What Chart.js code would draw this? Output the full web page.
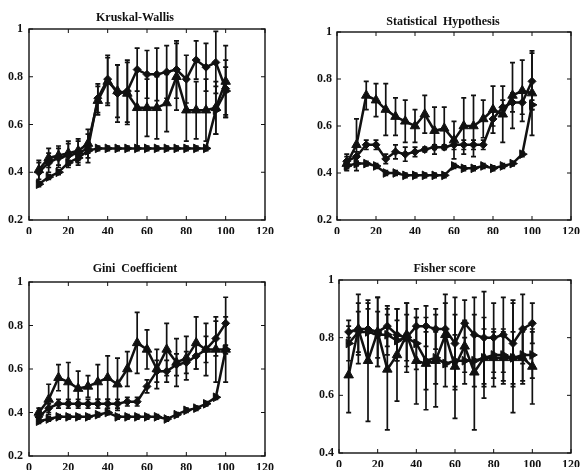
<!DOCTYPE html>
<html><head><meta charset="utf-8">
<script src="https://cdn.jsdelivr.net/npm/chart.js@4/dist/chart.umd.min.js"></script>
<style>
html,body{margin:0;padding:0;background:#fff;width:585px;height:474px;overflow:hidden}
canvas{position:absolute}
</style></head><body>
<canvas id="c1" width="292" height="237" style="left:0;top:0"></canvas>
<canvas id="c2" width="293" height="237" style="left:292px;top:0"></canvas>
<canvas id="c3" width="292" height="237" style="left:0;top:237px"></canvas>
<canvas id="c4" width="293" height="237" style="left:292px;top:237px"></canvas>
<script>
// ---- data ----
const featureCounts = [5,10,15,20,25,30,35,40,45,50,55,60,65,70,75,80,85,90,95,100];
const xTickValues = [0,20,40,60,80,100,120];
const yTickValues = [0.2,0.4,0.6,0.8,1];
const yTickValuesFisher = [0.4,0.6,0.8,1];

// Kruskal-Wallis
const kwTriUp      = [0.41,0.46,0.47,0.48,0.49,0.52,0.70,0.78,0.74,0.73,0.67,0.67,0.67,0.69,0.80,0.66,0.66,0.66,0.67,0.78];
const kwTriUpErr   = [0.04,0.04,0.04,0.05,0.05,0.06,0.06,0.10,0.11,0.13,0.16,0.12,0.13,0.12,0.14,0.13,0.12,0.13,0.11,0.15];
const kwDiamond    = [0.40,0.44,0.46,0.47,0.48,0.50,0.71,0.79,0.73,0.74,0.83,0.81,0.81,0.82,0.83,0.79,0.87,0.84,0.86,0.75];
const kwDiamondErr = [0.04,0.04,0.04,0.05,0.05,0.06,0.06,0.10,0.12,0.13,0.09,0.10,0.11,0.11,0.12,0.10,0.08,0.10,0.13,0.12];
const kwTriRight   = [0.35,0.38,0.40,0.44,0.46,0.49,0.50,0.50,0.50,0.50,0.50,0.50,0.50,0.50,0.50,0.50,0.50,0.50,0.66,0.74];
const kwTriRightErr= [0.01,0.01,0.01,0.01,0.01,0.01,0.01,0.01,0.01,0.01,0.01,0.01,0.01,0.01,0.01,0.01,0.01,0.01,0.10,0.10];

// Statistical Hypothesis
const shTriUp      = [0.44,0.52,0.73,0.71,0.67,0.64,0.62,0.60,0.65,0.58,0.59,0.54,0.60,0.60,0.63,0.67,0.65,0.73,0.75,0.74];
const shTriUpErr   = [0.03,0.11,0.06,0.07,0.11,0.08,0.09,0.07,0.08,0.10,0.09,0.08,0.12,0.13,0.08,0.10,0.12,0.14,0.13,0.18];
const shDiamond    = [0.45,0.47,0.52,0.52,0.46,0.49,0.48,0.49,0.50,0.51,0.51,0.52,0.52,0.52,0.52,0.63,0.68,0.70,0.70,0.79];
const shDiamondErr = [0.03,0.02,0.02,0.02,0.02,0.03,0.03,0.02,0.01,0.01,0.01,0.02,0.02,0.02,0.02,0.03,0.03,0.04,0.05,0.12];
const shTriRight   = [0.43,0.44,0.44,0.43,0.40,0.40,0.39,0.39,0.39,0.39,0.39,0.43,0.42,0.42,0.43,0.42,0.43,0.44,0.48,0.69];
const shTriRightErr= [0.01,0.01,0.01,0.01,0.01,0.01,0.01,0.01,0.01,0.01,0.01,0.01,0.01,0.01,0.01,0.01,0.01,0.01,0.01,0.02];

// Gini Coefficient
const giTriUp      = [0.40,0.46,0.56,0.54,0.51,0.52,0.54,0.56,0.53,0.60,0.72,0.69,0.60,0.69,0.63,0.65,0.72,0.69,0.69,0.69];
const giTriUpErr   = [0.02,0.07,0.06,0.09,0.08,0.05,0.08,0.10,0.12,0.08,0.14,0.09,0.09,0.12,0.11,0.10,0.12,0.12,0.15,0.15];
const giDiamond    = [0.38,0.42,0.44,0.44,0.44,0.44,0.44,0.44,0.44,0.45,0.45,0.52,0.59,0.59,0.62,0.63,0.66,0.69,0.74,0.81];
const giDiamondErr = [0.02,0.02,0.02,0.02,0.02,0.02,0.02,0.02,0.02,0.02,0.02,0.03,0.05,0.05,0.05,0.05,0.06,0.06,0.08,0.12];
const giTriRight   = [0.36,0.37,0.38,0.38,0.38,0.38,0.39,0.40,0.38,0.38,0.38,0.38,0.38,0.37,0.39,0.41,0.42,0.44,0.47,0.69];
const giTriRightErr= [0.01,0.01,0.01,0.01,0.01,0.01,0.01,0.01,0.01,0.01,0.01,0.01,0.01,0.01,0.01,0.01,0.01,0.01,0.01,0.02];

// Fisher score
const fsTriUp      = [0.67,0.83,0.72,0.82,0.69,0.74,0.81,0.72,0.71,0.72,0.81,0.70,0.77,0.68,0.73,0.73,0.73,0.73,0.73,0.70];
const fsTriUpErr   = [0.13,0.12,0.21,0.12,0.21,0.16,0.11,0.15,0.16,0.16,0.11,0.18,0.09,0.20,0.14,0.10,0.09,0.19,0.09,0.13];
const fsDiamond    = [0.82,0.83,0.83,0.82,0.84,0.81,0.80,0.84,0.84,0.83,0.83,0.78,0.85,0.81,0.80,0.80,0.81,0.78,0.83,0.85];
const fsDiamondErr = [0.04,0.09,0.09,0.12,0.07,0.09,0.12,0.06,0.07,0.07,0.12,0.16,0.08,0.13,0.16,0.12,0.13,0.15,0.12,0.07];
const fsTriRight   = [0.78,0.82,0.82,0.81,0.81,0.79,0.80,0.78,0.72,0.73,0.71,0.72,0.72,0.72,0.73,0.74,0.74,0.73,0.74,0.74];
const fsTriRightErr= [0.06,0.07,0.08,0.08,0.07,0.07,0.08,0.09,0.10,0.09,0.08,0.09,0.08,0.09,0.10,0.08,0.09,0.09,0.09,0.08];

// ---- drawing ----
const INK = '#111';
const errorBars = {
  id:'errorBars',
  beforeDatasetsDraw(chart){
    const {ctx, scales:{x,y}} = chart;
    ctx.save(); ctx.strokeStyle = INK; ctx.lineWidth = 1.7;
    chart.data.datasets.forEach(ds=>{
      if(!ds.errors) return;
      ds.data.forEach((p,i)=>{
        const e = ds.errors[i];
        const px = x.getPixelForValue(p.x);
        const t = y.getPixelForValue(p.y+e), b = y.getPixelForValue(p.y-e);
        ctx.beginPath();
        ctx.moveTo(px,t); ctx.lineTo(px,b);
        ctx.moveTo(px-2.5,t); ctx.lineTo(px+2.5,t);
        ctx.moveTo(px-2.5,b); ctx.lineTo(px+2.5,b);
        ctx.stroke();
      });
    });
    ctx.restore();
  }
};
const frame = {
  id:'frame',
  afterDraw(chart){
    const {ctx, chartArea:a, scales:{x,y}} = chart;
    ctx.save(); ctx.strokeStyle = INK; ctx.lineWidth = 1.4;
    ctx.strokeRect(a.left, a.top, a.right-a.left, a.bottom-a.top);
    ctx.lineWidth = 1;
    ctx.beginPath();
    x.ticks.forEach(t=>{const px=x.getPixelForValue(t.value);
      ctx.moveTo(px,a.bottom); ctx.lineTo(px,a.bottom-4);
      ctx.moveTo(px,a.top); ctx.lineTo(px,a.top+4);});
    y.ticks.forEach(t=>{const py=y.getPixelForValue(t.value);
      ctx.moveTo(a.left,py); ctx.lineTo(a.left+4,py);
      ctx.moveTo(a.right,py); ctx.lineTo(a.right-4,py);});
    ctx.stroke(); ctx.restore();
  }
};

function series(vals, errs, style, radius, rot){
  return {
    data: featureCounts.map((x,i)=>({x, y: vals[i]})),
    errors: errs,
    borderColor: INK, backgroundColor: INK, borderWidth: 2.5,
    pointStyle: style, pointRadius: radius, pointRotation: rot,
    pointBackgroundColor: INK, pointBorderColor: INK, pointBorderWidth: 1,
    tension: 0
  };
}

function makeChart(id, title, cfg){
  const tickFont = {family:'Liberation Serif', size:12, weight:'bold'};
  new Chart(document.getElementById(id), {
    type:'line',
    data:{datasets:[
      series(cfg.c, cfg.ce, 'triangle', 5, 90),
      series(cfg.b, cfg.be, 'rectRot', 4, 0),
      series(cfg.a, cfg.ae, 'triangle', 5.5, 0)
    ]},
    options:{
      responsive:false, animation:false, devicePixelRatio:1,
      layout:{padding:{left:cfg.padL, right:cfg.padR, top:0, bottom:cfg.padB}},
      plugins:{
        legend:{display:false}, tooltip:{enabled:false},
        title:{display:true, text:title, color:INK,
          font:{family:'Liberation Serif', size:12, weight:'bold', lineHeight:1.2},
          padding:{top:cfg.tTop, bottom:cfg.tBot}}
      },
      scales:{
        x:{type:'linear', min:0, max:120,
          afterBuildTicks:s=>{s.ticks = xTickValues.map(v=>({value:v}));},
          afterFit:s=>{s.height = 14;},
          grid:{display:false, drawTicks:false}, border:{display:false},
          ticks:{color:INK, font:tickFont, padding:5, maxRotation:0, callback:v=>String(v)}},
        y:{type:'linear', min:cfg.yTicks[0], max:1,
          afterBuildTicks:s=>{s.ticks = cfg.yTicks.map(v=>({value:v}));},
          afterFit:s=>{s.width = cfg.yW;},
          grid:{display:false, drawTicks:false}, border:{display:false},
          ticks:{color:INK, font:tickFont, padding:cfg.yPad, callback:v=>String(v)}}
      }
    },
    plugins:[errorBars, frame]
  });
}

makeChart('c1','Kruskal-Wallis',{a:kwTriUp,ae:kwTriUpErr,b:kwDiamond,be:kwDiamondErr,c:kwTriRight,ce:kwTriRightErr,
  yTicks:yTickValues, padL:5, yW:24, yPad:6, padR:27, padB:3, tTop:10.8, tBot:3.8});
makeChart('c2','Statistical  Hypothesis',{a:shTriUp,ae:shTriUpErr,b:shDiamond,be:shDiamondErr,c:shTriRight,ce:shTriRightErr,
  yTicks:yTickValues, padL:20, yW:25, yPad:5, padR:11, padB:3, tTop:14.8, tBot:2.8});
makeChart('c3','Gini  Coefficient',{a:giTriUp,ae:giTriUpErr,b:giDiamond,be:giDiamondErr,c:giTriRight,ce:giTriRightErr,
  yTicks:yTickValues, padL:5, yW:24, yPad:6, padR:27, padB:4, tTop:24.8, tBot:5.8});
makeChart('c4','Fisher score',{a:fsTriUp,ae:fsTriUpErr,b:fsDiamond,be:fsDiamondErr,c:fsTriRight,ce:fsTriRightErr,
  yTicks:yTickValuesFisher, padL:22, yW:25, yPad:5, padR:10, padB:7, tTop:24.8, tBot:3.8});
</script>
</body></html>
